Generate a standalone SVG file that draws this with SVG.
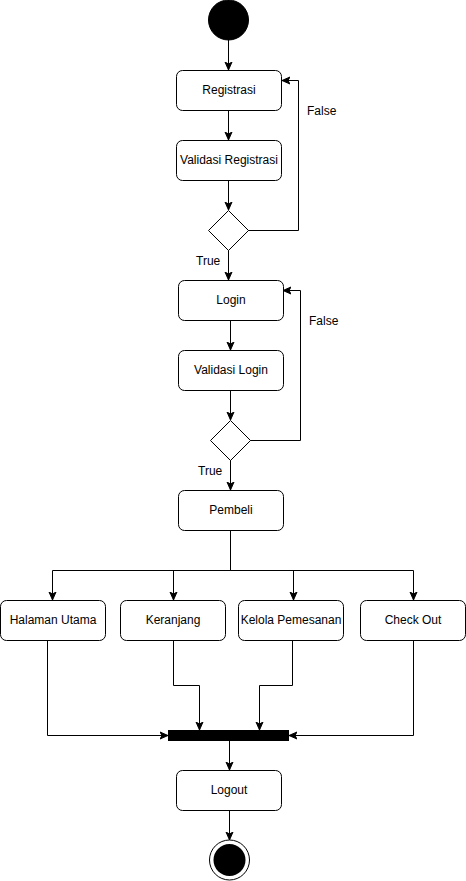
<svg xmlns="http://www.w3.org/2000/svg" width="466" height="881" viewBox="0 0 466 881">
<defs>
<marker id="arr" markerUnits="userSpaceOnUse" markerWidth="10" markerHeight="10" refX="8" refY="5" orient="auto">
<path d="M0,1.5 L8,5 L0,8.5 L2,5 Z" fill="#000" stroke="#000" stroke-width="1"/>
</marker>
</defs>
<style>
.box{fill:#fff;stroke:#000;stroke-width:1}
.t{font-family:"Liberation Sans",Arial,sans-serif;font-size:12px;fill:#000;text-anchor:middle}
.lbl{font-family:"Liberation Sans",Arial,sans-serif;font-size:12px;fill:#000}
.c{fill:none;stroke:#000;stroke-width:1;marker-end:url(#arr)}
</style>
<rect width="466" height="881" fill="#fff"/>
<g id="connectors">
<path class="c" d="M228.5,40 V70"/>
<path class="c" d="M228.5,110 V140"/>
<path class="c" d="M228.5,180 V210"/>
<path class="c" d="M248,230.5 H298.5 V80.5 H282"/>
<path class="c" d="M228.5,250 V280"/>
<path class="c" d="M230.5,320 V350"/>
<path class="c" d="M230.5,390 V420"/>
<path class="c" d="M250,440.5 H300.5 V290.5 H283"/>
<path class="c" d="M230.5,460 V490"/>
<path class="c" d="M230.5,530 V570.5 H52.5 V600"/>
<path class="c" d="M230.5,570.5 H173.5 V600"/>
<path class="c" d="M230.5,570.5 H293.5 V600"/>
<path class="c" d="M230.5,570.5 H413.5 V600"/>
<path class="c" d="M47.5,640 V735.5 H168"/>
<path class="c" d="M173.5,640 V685.5 H199.5 V730"/>
<path class="c" d="M292.5,640 V685.5 H259.5 V730"/>
<path class="c" d="M413.5,640 V735.5 H289"/>
<path class="c" d="M229.5,741 V770"/>
<path class="c" d="M229.5,810 V840"/>
</g>
<g id="start"><circle cx="228.5" cy="20" r="20" fill="#000" stroke="#000"/></g>
<g id="registrasi"><rect class="box" x="176.5" y="70.5" width="105" height="40" rx="6"/><text class="t" x="229" y="94">Registrasi</text></g>
<g id="validasi-registrasi"><rect class="box" x="176.5" y="140.5" width="105" height="40" rx="6"/><text class="t" x="229" y="164">Validasi Registrasi</text></g>
<g id="decision1"><path class="box" d="M228.5,210.5 L248.5,230.5 L228.5,250.5 L208.5,230.5 Z"/></g>
<g id="label-false1"><text class="lbl" x="307" y="115">False</text></g>
<g id="label-true1"><text class="lbl" x="196" y="265">True</text></g>
<g id="login"><rect class="box" x="178.5" y="280.5" width="105" height="40" rx="6"/><text class="t" x="231" y="304">Login</text></g>
<g id="validasi-login"><rect class="box" x="178.5" y="350.5" width="105" height="40" rx="6"/><text class="t" x="231" y="374">Validasi Login</text></g>
<g id="decision2"><path class="box" d="M230.5,420.5 L250.5,440.5 L230.5,460.5 L210.5,440.5 Z"/></g>
<g id="label-false2"><text class="lbl" x="309" y="325">False</text></g>
<g id="label-true2"><text class="lbl" x="198" y="475">True</text></g>
<g id="pembeli"><rect class="box" x="178.5" y="490.5" width="105" height="40" rx="6"/><text class="t" x="231" y="514">Pembeli</text></g>
<g id="halaman-utama"><rect class="box" x="0.5" y="600.5" width="105" height="40" rx="6"/><text class="t" x="53" y="624">Halaman Utama</text></g>
<g id="keranjang"><rect class="box" x="120.5" y="600.5" width="105" height="40" rx="6"/><text class="t" x="173" y="624">Keranjang</text></g>
<g id="kelola-pemesanan"><rect class="box" x="238.5" y="600.5" width="105" height="40" rx="6"/><text class="t" x="291" y="624">Kelola Pemesanan</text></g>
<g id="check-out"><rect class="box" x="360.5" y="600.5" width="105" height="40" rx="6"/><text class="t" x="413" y="624">Check Out</text></g>
<g id="join-bar"><rect x="168.5" y="730.5" width="120" height="10" fill="#000" stroke="#000"/></g>
<g id="logout"><rect class="box" x="176.5" y="770.5" width="105" height="40" rx="6"/><text class="t" x="229" y="794">Logout</text></g>
<g id="end"><circle cx="229.5" cy="860" r="20" fill="#fff" stroke="#000"/><circle cx="229.5" cy="860" r="16" fill="#000"/></g>
</svg>
